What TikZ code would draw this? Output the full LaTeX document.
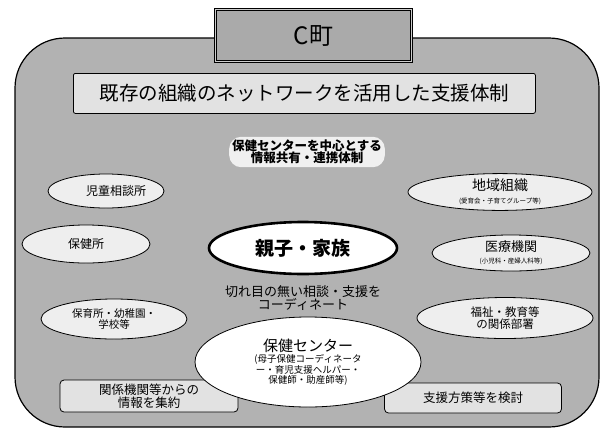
\documentclass[tikz,border=0pt]{standalone}
\usepackage{fontspec}
\setmainfont{Noto Sans CJK JP}
\usetikzlibrary{shapes.geometric,positioning}

\newcommand{\fsz}[1]{\fontsize{#1}{#1}\selectfont}

\begin{document}
\begin{tikzpicture}[x=1pt, y=-1pt,
    every node/.style={font=\fsz{12}},
    organ/.style={draw=black, thick, ellipse, fill=ovalgray, inner sep=0pt, align=center},
    panel/.style={draw=black, thick, fill=panelgray, rounded corners=4pt, align=center, inner sep=0pt}]
        \definecolor{regiongray}{RGB}{178,178,178}
        \definecolor{ovalgray}{RGB}{238,238,238}
        \definecolor{panelgray}{RGB}{226,226,226}
        \definecolor{townbox}{RGB}{170,170,170}

        \useasboundingbox (0,0) rectangle (602,429);

        % Region behind everything
        \draw[very thick, fill=regiongray, rounded corners=50pt] (15,38) rectangle (599,427);

        % Title boxes
        \node[draw=black, very thick, fill=townbox, double=gray!40, double distance=1pt, minimum width=196pt, minimum height=52pt, anchor=north west, inner sep=0pt, font=\fsz{24}] (town) at (215,9) {C町};
        \node[panel, rounded corners=2pt, minimum width=462pt, minimum height=40pt, anchor=north west, font=\fsz{19.5}] (policy) at (73,73) {既存の組織のネットワークを活用した支援体制};

        % Network text
        \node[fill=white!80!regiongray, rounded corners=12pt, inner sep=3pt, align=center, font=\bfseries\fsz{12.5}] (share) at (307,152) {保健センターを中心とする\\情報共有・連携体制};

        % Organisations round the family
        \node[organ, minimum width=116pt, minimum height=34pt] (jido) at (106,191) {\hspace*{20pt}児童相談所};
        \node[organ, minimum width=128pt, minimum height=38pt] (hokenjo) at (86,244) {保健所};
        \node[organ, minimum width=146pt, minimum height=40pt, font=\fsz{10.5}] (hoiku) at (114,319) {保育所・幼稚園・\\学校等};
        \node[organ, minimum width=184pt, minimum height=36pt, font=\fsz{14}] (chiiki) at (500,192) {地域組織\\[-1pt]{\fsz{6.5}(愛育会・子育てグループ等)}};
        \node[organ, minimum width=158pt, minimum height=36pt, font=\fsz{13}] (iryo) at (511,253) {医療機関\\[-1pt]{\fsz{6.5}(小児科・産婦人科等)}};
        \node[organ, minimum width=176pt, minimum height=41pt, font=\fsz{11.5}] (fukushi) at (505,318) {福祉・教育等\\の関係部署};

        % Family in the middle
        \node[organ, double=black, double distance=1pt, fill=white, minimum width=188pt, minimum height=52pt, font=\bfseries\fsz{19}] (family) at (303,248) {親子・家族};

        \node[align=center, font=\fsz{13}] (coord) at (303,298) {切れ目の無い相談・支援を\\コーディネート};

        % Health centre and its tasks
        \node[panel, minimum width=178pt, minimum height=32pt, font=\fsz{12.5}] (gather) at (149,396) {関係機関等からの\\情報を集約};
        \node[panel, minimum width=177pt, minimum height=30pt, font=\fsz{12.5}] (plan) at (473,398) {支援方策等を検討};
        \node[organ, fill=white, minimum width=226pt, minimum height=90pt, font=\fsz{9.5}] (center) at (308,362) {{\fsz{15}保健センター}\\[2pt](母子保健コーディネータ\\ー・育児支援ヘルパー・\\保健師・助産師等)};
    \end{tikzpicture}
\end{document}
